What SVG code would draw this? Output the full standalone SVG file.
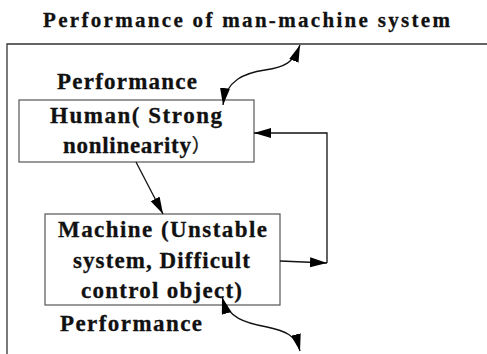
<svg xmlns="http://www.w3.org/2000/svg" width="487" height="354" viewBox="0 0 487 354">
  <style>
    .box { fill: #fff; stroke: #555; stroke-width: 1.2; }
    .frame { fill: none; stroke: #333; stroke-width: 1.3; }
    .conn { fill: none; stroke: #111; stroke-width: 1.3; }
    .t { font-family: "Liberation Serif", serif; font-weight: bold; fill: #111; stroke: #111; stroke-width: 0.3; }
  </style>
  <defs>
    <marker id="arrow" markerUnits="userSpaceOnUse" markerWidth="18" markerHeight="11" refX="17" refY="5" orient="auto-start-reverse">
      <path d="M0,0 L17,5 L0,10 z" fill="#000"/>
    </marker>
  </defs>

  <rect width="487" height="354" fill="#fff"/>

  <!-- system boundary -->
  <g id="system-frame">
    <path class="frame" d="M7,354 V44 H487"/>
    <text class="t" style="font-size:21px" x="43" y="27" textLength="407" lengthAdjust="spacing">Performance of man-machine system</text>
  </g>

  <g id="human-performance">
    <text class="t" style="font-size:23px" x="57" y="89" textLength="140" lengthAdjust="spacing">Performance</text>
  </g>

  <g id="human">
    <rect class="box" x="19" y="100" width="235" height="62"/>
    <text class="t" style="font-size:23px" x="50" y="123" textLength="172" lengthAdjust="spacing">Human( Strong</text>
    <text class="t" style="font-size:23px" x="63" y="153"><tspan textLength="128" lengthAdjust="spacing">nonlinearity</tspan><tspan style="font-family:'Noto Sans CJK SC',sans-serif;font-weight:normal;font-size:19px">）</tspan></text>
  </g>

  <g id="machine">
    <rect class="box" x="45" y="214" width="235" height="91"/>
    <text class="t" style="font-size:23px" x="58" y="237" textLength="209" lengthAdjust="spacing">Machine (Unstable</text>
    <text class="t" style="font-size:23px" x="73" y="268" textLength="177" lengthAdjust="spacing">system, Difficult</text>
    <text class="t" style="font-size:23px" x="81" y="298" textLength="161" lengthAdjust="spacing">control object)</text>
  </g>

  <g id="machine-performance">
    <text class="t" style="font-size:23px" x="60" y="331" textLength="142" lengthAdjust="spacing">Performance</text>
  </g>

  <g id="connectors">
    <!-- human drives machine -->
    <path class="conn" d="M136,162 L163,214" marker-end="url(#arrow)"/>
    <!-- machine output fed back to human -->
    <path class="conn" d="M280,261 L327,263" marker-end="url(#arrow)"/>
    <path class="conn" d="M327,263 V133 H254" marker-end="url(#arrow)"/>
    <!-- performance exchange with the whole system -->
    <path class="conn" d="M223,105 C226,80 245,73 265,70 C285,67 293,63 300,45" marker-start="url(#arrow)" marker-end="url(#arrow)"/>
    <path class="conn" d="M222,297 C228,318 245,323 267,327 C285,331 296,335 300,351" marker-start="url(#arrow)" marker-end="url(#arrow)"/>
  </g>
</svg>
